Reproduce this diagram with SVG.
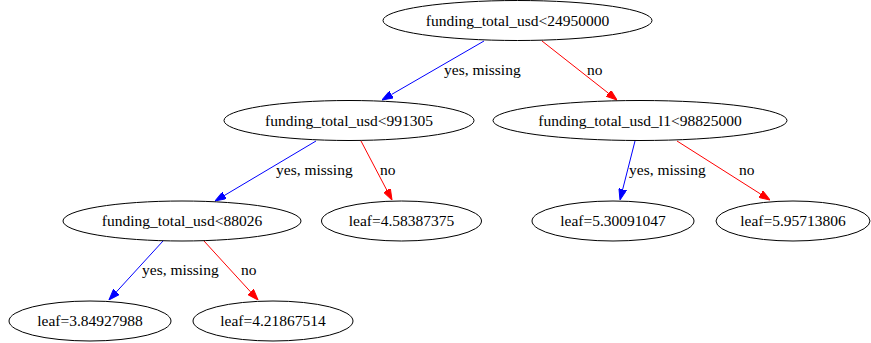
<svg xmlns="http://www.w3.org/2000/svg" width="871" height="343" viewBox="0 0 871 343">
<style>
.node ellipse{fill:none;stroke:#000;stroke-width:1}
.node text{font-family:"Liberation Serif","Times New Roman",serif;font-size:15.5px;fill:#000;text-anchor:middle}
.lbl{font-family:"Liberation Serif","Times New Roman",serif;font-size:15.5px;fill:#000}
.yes{stroke:#0000ff;stroke-width:1;fill:none}
.no{stroke:#ff0000;stroke-width:1;fill:none}
</style>
<defs>
<marker id="ab" markerUnits="userSpaceOnUse" viewBox="0 -4 11 8" refX="0" refY="0" markerWidth="11" markerHeight="8" orient="auto">
<path d="M0,-3.9 L11,0 L0,3.9 Z" fill="#0000ff" stroke="#0000ff" stroke-width="1"/>
</marker>
<marker id="ar" markerUnits="userSpaceOnUse" viewBox="0 -4 11 8" refX="0" refY="0" markerWidth="11" markerHeight="8" orient="auto">
<path d="M0,-3.9 L11,0 L0,3.9 Z" fill="#ff0000" stroke="#ff0000" stroke-width="1"/>
</marker>
</defs>
<rect width="871" height="343" fill="#fff"/>
<g id="edges">
<line class="yes" x1="484" y1="41" x2="391.5" y2="94.5" marker-end="url(#ab)"/>
<text class="lbl" x="444" y="75">yes, missing</text>
<line class="no" x1="542" y1="41" x2="608.4" y2="93.2" marker-end="url(#ar)"/>
<text class="lbl" x="587" y="75">no</text>
<line class="yes" x1="316" y1="141" x2="224.5" y2="195.4" marker-end="url(#ab)"/>
<text class="lbl" x="276" y="175">yes, missing</text>
<line class="no" x1="361" y1="141" x2="386.9" y2="190.3" marker-end="url(#ar)"/>
<text class="lbl" x="380" y="175">no</text>
<line class="yes" x1="635" y1="141" x2="622.7" y2="189.3" marker-end="url(#ab)"/>
<text class="lbl" x="629" y="175">yes, missing</text>
<line class="no" x1="677" y1="141" x2="760.7" y2="194.1" marker-end="url(#ar)"/>
<text class="lbl" x="739" y="175">no</text>
<line class="yes" x1="163" y1="241" x2="116.4" y2="291.9" marker-end="url(#ab)"/>
<text class="lbl" x="142" y="275">yes, missing</text>
<line class="no" x1="204" y1="241" x2="250.6" y2="291.9" marker-end="url(#ar)"/>
<text class="lbl" x="241" y="275">no</text>
</g>
<g id="n0" class="node"><ellipse cx="517.5" cy="20.5" rx="134.5" ry="20"/><text x="517.5" y="25.5">funding_total_usd&lt;24950000</text></g>
<g id="n1" class="node"><ellipse cx="349" cy="120.5" rx="125" ry="20"/><text x="349" y="125.5">funding_total_usd&lt;991305</text></g>
<g id="n2" class="node"><ellipse cx="640" cy="120.5" rx="147" ry="20"/><text x="640" y="125.5">funding_total_usd_l1&lt;98825000</text></g>
<g id="n3" class="node"><ellipse cx="182" cy="221" rx="119" ry="20"/><text x="182" y="226">funding_total_usd&lt;88026</text></g>
<g id="n4" class="node"><ellipse cx="401.5" cy="221" rx="80" ry="20"/><text x="401.5" y="226">leaf=4.58387375</text></g>
<g id="n5" class="node"><ellipse cx="613" cy="221" rx="81" ry="20"/><text x="613" y="226">leaf=5.30091047</text></g>
<g id="n6" class="node"><ellipse cx="793" cy="221" rx="77" ry="20"/><text x="793" y="226">leaf=5.95713806</text></g>
<g id="n7" class="node"><ellipse cx="90" cy="321" rx="81" ry="20"/><text x="90" y="326">leaf=3.84927988</text></g>
<g id="n8" class="node"><ellipse cx="273" cy="321" rx="80" ry="20"/><text x="273" y="326">leaf=4.21867514</text></g>
</svg>
